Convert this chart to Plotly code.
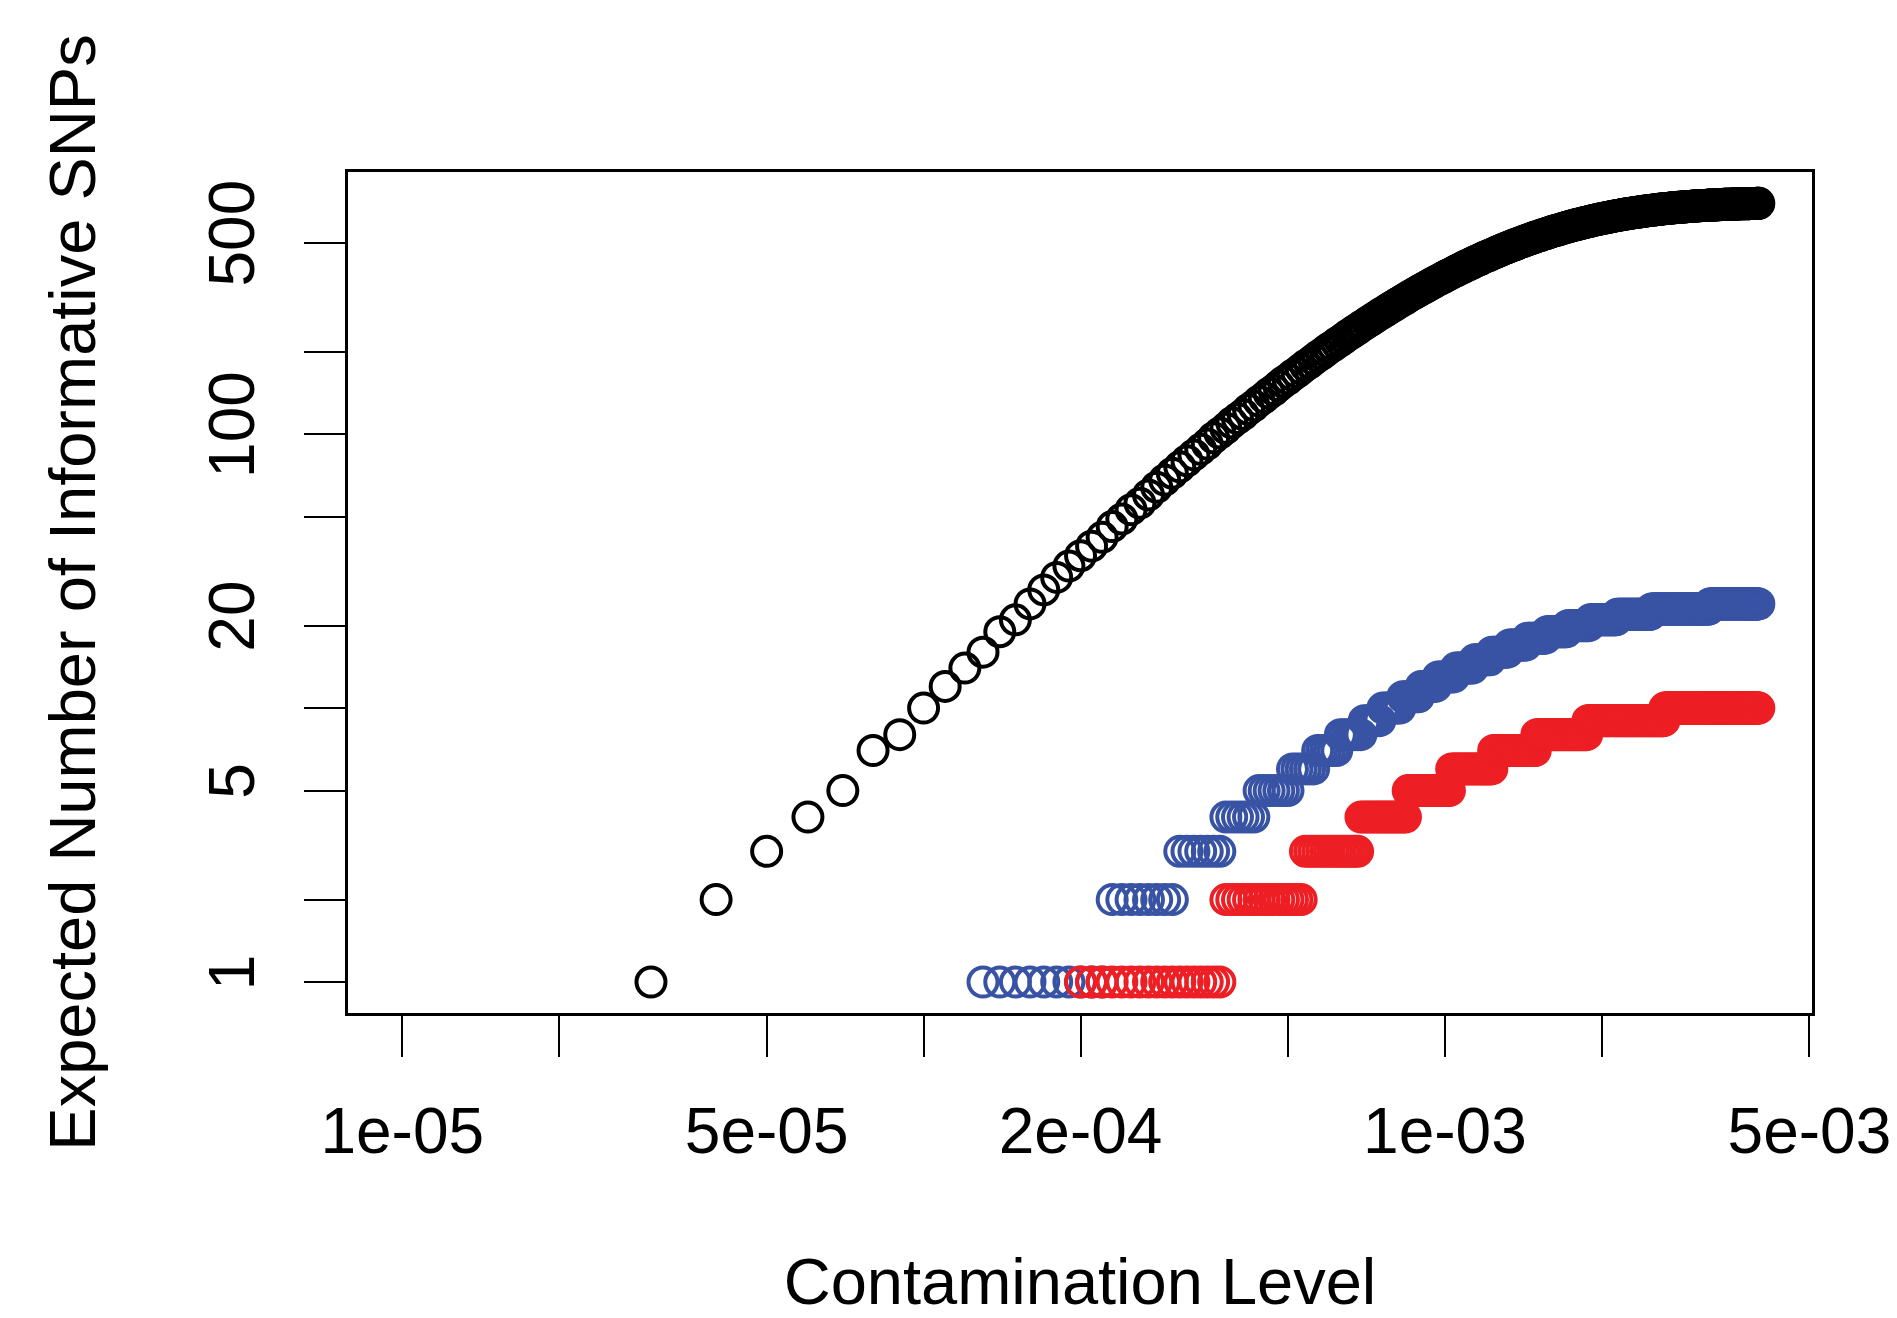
import plotly.graph_objects as go

# Contamination levels (x grid, step 1e-05 from 1e-05 to 4e-03)
contamination = [round(k * 1e-5, 5) for k in range(1, 401)]

# Expected number of informative SNPs (black series), one value per contamination level
black_snps = [
    None, None, 1, 2, 3, 4, 5, 7, 8, 10,
    12, 14, 16, 19, 21, 24, 27, 30, 33, 36,
    39, 42, 46, 49, 53, 56, 60, 64, 68, 72,
    76, 80, 84, 88, 92, 97, 101, 105, 110, 114,
    118, 123, 127, 132, 136, 141, 145, 150, 155, 159,
    164, 168, 173, 178, 182, 187, 192, 196, 201, 206,
    210, 215, 219, 224, 229, 233, 238, 242, 247, 251,
    256, 260, 265, 269, 274, 278, 282, 287, 291, 295,
    300, 304, 308, 312, 317, 321, 325, 329, 333, 337,
    341, 345, 349, 353, 357, 361, 365, 368, 372, 376,
    380, 383, 387, 391, 394, 398, 402, 405, 409, 412,
    415, 419, 422, 426, 429, 432, 435, 439, 442, 445,
    448, 451, 454, 457, 460, 463, 466, 469, 472, 475,
    478, 480, 483, 486, 489, 491, 494, 497, 499, 502,
    504, 507, 509, 512, 514, 517, 519, 521, 524, 526,
    528, 530, 533, 535, 537, 539, 541, 543, 545, 548,
    550, 552, 554, 555, 557, 559, 561, 563, 565, 567,
    569, 570, 572, 574, 576, 577, 579, 581, 582, 584,
    585, 587, 588, 590, 592, 593, 594, 596, 597, 599,
    600, 602, 603, 604, 606, 607, 608, 610, 611, 612,
    613, 614, 616, 617, 618, 619, 620, 621, 623, 624,
    625, 626, 627, 628, 629, 630, 631, 632, 633, 634,
    635, 636, 637, 638, 638, 639, 640, 641, 642, 643,
    644, 644, 645, 646, 647, 647, 648, 649, 650, 650,
    651, 652, 653, 653, 654, 655, 655, 656, 657, 657,
    658, 658, 659, 660, 660, 661, 661, 662, 663, 663,
    664, 664, 665, 665, 666, 666, 667, 667, 668, 668,
    669, 669, 670, 670, 670, 671, 671, 672, 672, 673,
    673, 673, 674, 674, 675, 675, 675, 676, 676, 676,
    677, 677, 678, 678, 678, 678, 679, 679, 679, 680,
    680, 680, 681, 681, 681, 682, 682, 682, 682, 683,
    683, 683, 683, 684, 684, 684, 684, 685, 685, 685,
    685, 686, 686, 686, 686, 686, 687, 687, 687, 687,
    687, 688, 688, 688, 688, 688, 689, 689, 689, 689,
    689, 689, 690, 690, 690, 690, 690, 690, 690, 691,
    691, 691, 691, 691, 691, 691, 692, 692, 692, 692,
    692, 692, 692, 692, 693, 693, 693, 693, 693, 693,
    693, 693, 693, 694, 694, 694, 694, 694, 694, 694,
    694, 694, 694, 694, 695, 695, 695, 695, 695, 695,
    695, 695, 695, 695, 695, 695, 696, 696, 696, 696,
]

# Blue series: integer levels and the contamination level where each level begins
blue_levels = [1, 2, 3, 4, 5, 6, 7, 8, 9, 10, 11, 12,
               13, 14, 15, 16, 17, 18, 19, 20, 21, 22, 23, 24]
blue_step_start = [1.3e-4, 2.3e-4, 3.1e-4, 3.8e-4, 4.4e-4, 5.1e-4, 5.7e-4, 6.3e-4,
                   7.0e-4, 7.6e-4, 8.3e-4, 9.0e-4, 9.7e-4, 1.05e-3, 1.14e-3, 1.23e-3,
                   1.33e-3, 1.44e-3, 1.57e-3, 1.72e-3, 1.90e-3, 2.14e-3, 2.49e-3, 3.22e-3]

# Red series
red_levels = [1, 2, 3, 4, 5, 6, 7, 8, 9, 10]
red_step_start = [2.0e-4, 3.8e-4, 5.4e-4, 6.9e-4, 8.5e-4, 1.03e-3, 1.24e-3, 1.50e-3,
                  1.88e-3, 2.64e-3]

x_tick_vals = [1e-5, 2e-5, 5e-5, 1e-4, 2e-4, 5e-4, 1e-3, 2e-3, 5e-3]
x_tick_text = ["1e-05", "", "5e-05", "", "2e-04", "", "1e-03", "", "5e-03"]
y_tick_vals = [1, 2, 5, 10, 20, 50, 100, 200, 500]
y_tick_text = ["1", "", "5", "", "20", "", "100", "", "500"]


def stepped(levels, starts):
    out = []
    for c in contamination:
        v = None
        for lev, s in zip(levels, starts):
            if c >= s - 1e-9:
                v = lev
        out.append(v)
    return out


blue_snps = stepped(blue_levels, blue_step_start)
red_snps = stepped(red_levels, red_step_start)

FONT = "Liberation Sans, Arial, Helvetica, sans-serif"
MSIZE = 29
MLINE = 4

fig = go.Figure()
for ys, col in [(black_snps, "#000000"), (blue_snps, "#3953a4"), (red_snps, "#ed1f24")]:
    fig.add_trace(go.Scatter(
        x=contamination, y=ys, mode="markers",
        marker=dict(symbol="circle-open", size=MSIZE, color=col,
                    line=dict(width=MLINE, color=col)),
        cliponaxis=False, showlegend=False,
    ))

# the page body adds an 8px offset, so the figure is 8px smaller than the window
fig.update_layout(
    width=1889, height=1310,
    margin=dict(l=340, r=85, t=164, b=305),
    paper_bgcolor="white", plot_bgcolor="white",
    font=dict(family=FONT, size=64, color="black"),
    showlegend=False,
)
fig.update_xaxes(
    type="log", range=[-5.104, -2.296], automargin=False,
    tickvals=x_tick_vals, ticktext=x_tick_text, ticklabeloverflow="allow",
    ticks="outside", ticklen=41, tickwidth=2.3, tickcolor="black",
    showline=True, mirror=True, linewidth=2.8, linecolor="black",
    showgrid=False, zeroline=False,
    tickfont=dict(family=FONT, size=64, color="black"),
    ticklabelstandoff=19,
    title=dict(text="Contamination Level", font=dict(family=FONT, size=65, color="black"), standoff=110),
)
fig.update_yaxes(
    type="log", range=[-0.113, 2.957], automargin=False,
    tickvals=y_tick_vals, ticktext=y_tick_text, tickangle=-90, ticklabeloverflow="allow",
    ticks="outside", ticklen=41, tickwidth=2.3, tickcolor="black",
    showline=True, mirror=True, linewidth=2.8, linecolor="black",
    showgrid=False, zeroline=False,
    tickfont=dict(family=FONT, size=64, color="black"),
    ticklabelstandoff=25,
    title=dict(text="Expected Number of Informative SNPs", font=dict(family=FONT, size=65, color="black"), standoff=79),
)

fig.write_html("out.html")
